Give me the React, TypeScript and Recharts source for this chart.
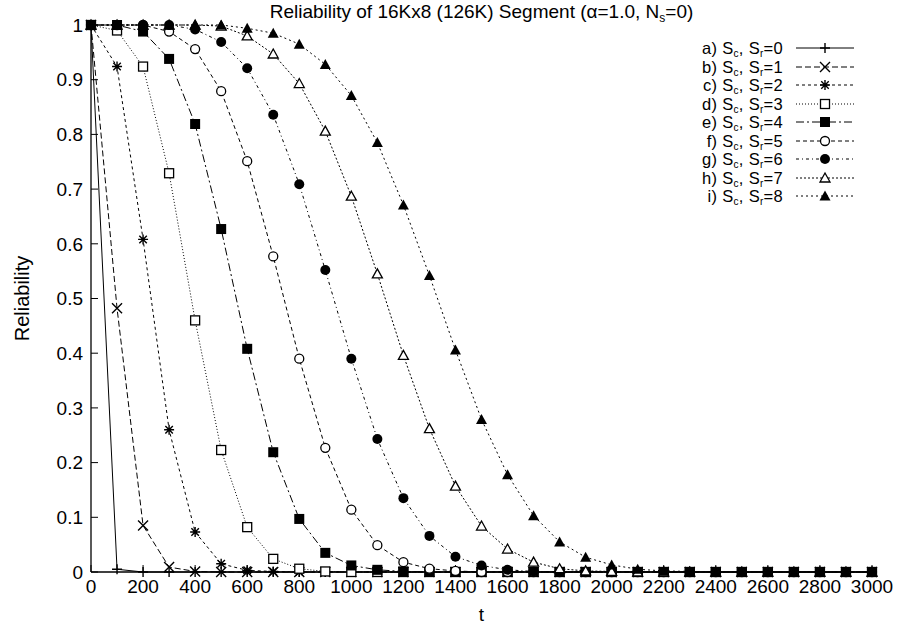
import React from 'react';
import { LineChart, Line, XAxis, YAxis, Legend } from 'recharts';

const T = [0, 100, 200, 300, 400, 500, 600, 700, 800, 900, 1000, 1100, 1200, 1300, 1400, 1500, 1600, 1700, 1800, 1900, 2000, 2100, 2200, 2300, 2400, 2500, 2600, 2700, 2800, 2900, 3000];

const R0 = [1, 0.005, 0, 0, 0, 0, 0, 0, 0, 0, 0, 0, 0, 0, 0, 0, 0, 0, 0, 0, 0, 0, 0, 0, 0, 0, 0, 0, 0, 0, 0];
const R1 = [1, 0.482, 0.085, 0.009, 0.001, 0, 0, 0, 0, 0, 0, 0, 0, 0, 0, 0, 0, 0, 0, 0, 0, 0, 0, 0, 0, 0, 0, 0, 0, 0, 0];
const R2 = [1, 0.924, 0.608, 0.26, 0.073, 0.015, 0.003, 0.001, 0, 0, 0, 0, 0, 0, 0, 0, 0, 0, 0, 0, 0, 0, 0, 0, 0, 0, 0, 0, 0, 0, 0];
const R3 = [1, 0.99, 0.924, 0.729, 0.46, 0.223, 0.082, 0.024, 0.006, 0.001, 0, 0, 0, 0, 0, 0, 0, 0, 0, 0, 0, 0, 0, 0, 0, 0, 0, 0, 0, 0, 0];
const R4 = [1, 1, 0.988, 0.938, 0.819, 0.627, 0.408, 0.219, 0.097, 0.035, 0.012, 0.004, 0.001, 0, 0, 0, 0, 0, 0, 0, 0, 0, 0, 0, 0, 0, 0, 0, 0, 0, 0];
const R5 = [1, 1, 1, 0.988, 0.956, 0.879, 0.751, 0.577, 0.39, 0.227, 0.114, 0.049, 0.018, 0.006, 0.002, 0, 0, 0, 0, 0, 0, 0, 0, 0, 0, 0, 0, 0, 0, 0, 0];
const R6 = [1, 1, 1, 1, 0.992, 0.969, 0.921, 0.836, 0.709, 0.552, 0.39, 0.243, 0.135, 0.066, 0.028, 0.012, 0.004, 0.001, 0, 0, 0, 0, 0, 0, 0, 0, 0, 0, 0, 0, 0];
const R7 = [1, 1, 1, 1, 1, 0.998, 0.98, 0.947, 0.893, 0.806, 0.687, 0.545, 0.396, 0.262, 0.157, 0.084, 0.042, 0.018, 0.006, 0.002, 0.001, 0, 0, 0, 0, 0, 0, 0, 0, 0, 0];
const R8 = [1, 1, 1, 1, 1, 1, 0.994, 0.985, 0.965, 0.928, 0.871, 0.785, 0.671, 0.542, 0.406, 0.279, 0.178, 0.103, 0.055, 0.027, 0.013, 0.005, 0.002, 0.001, 0, 0, 0, 0, 0, 0, 0];

const X_TICKS = [0, 200, 400, 600, 800, 1000, 1200, 1400, 1600, 1800, 2000, 2200, 2400, 2600, 2800, 3000];
const Y_TICKS = [0, 0.1, 0.2, 0.3, 0.4, 0.5, 0.6, 0.7, 0.8, 0.9, 1];

const TITLE_MAIN = 'Reliability of 16Kx8 (126K) Segment (\u03b1=1.0, N';
const TITLE_SUB = 's';
const TITLE_END = '=0)';
const X_LABEL = 't';
const Y_LABEL = 'Reliability';

const SERIES = [
  { key: 'a', letter: 'a', sr: '0', values: R0, dash: undefined, shape: 'plus' },
  { key: 'b', letter: 'b', sr: '1', values: R1, dash: '6 3', shape: 'cross' },
  { key: 'c', letter: 'c', sr: '2', values: R2, dash: '3 3', shape: 'star' },
  { key: 'd', letter: 'd', sr: '3', values: R3, dash: '1 2', shape: 'square' },
  { key: 'e', letter: 'e', sr: '4', values: R4, dash: '8 3 2 3', shape: 'fsquare' },
  { key: 'f', letter: 'f', sr: '5', values: R5, dash: '4 3', shape: 'circle' },
  { key: 'g', letter: 'g', sr: '6', values: R6, dash: '3 3 1 3', shape: 'fcircle' },
  { key: 'h', letter: 'h', sr: '7', values: R7, dash: '2 2', shape: 'triangle' },
  { key: 'i', letter: 'i', sr: '8', values: R8, dash: '2 3', shape: 'ftriangle' },
];

const data = T.map((t, i) => {
  const row: any = { t };
  SERIES.forEach((s) => { row[s.key] = s.values[i]; });
  return row;
});

const FONT = '"Liberation Sans", Arial, Helvetica, sans-serif';
const FS = 19;
const LEG_FS = 16.5;
const ROW_H = 18.5;

function Marker({ shape, cx, cy }: { shape: string; cx: number; cy: number }) {
  if (cx == null || cy == null || isNaN(cx) || isNaN(cy)) return <g />;
  const s = 5;
  const st = { stroke: '#000', strokeWidth: 1.4, fill: 'none' };
  switch (shape) {
    case 'plus':
      return <path d={`M${cx - s},${cy}H${cx + s}M${cx},${cy - s}V${cy + s}`} {...st} />;
    case 'cross':
      return <path d={`M${cx - s},${cy - s}L${cx + s},${cy + s}M${cx - s},${cy + s}L${cx + s},${cy - s}`} {...st} />;
    case 'star':
      return <path d={`M${cx - s},${cy}H${cx + s}M${cx},${cy - s}V${cy + s}M${cx - s * 0.75},${cy - s * 0.75}L${cx + s * 0.75},${cy + s * 0.75}M${cx - s * 0.75},${cy + s * 0.75}L${cx + s * 0.75},${cy - s * 0.75}`} {...st} />;
    case 'square':
      return <rect x={cx - 4.5} y={cy - 4.5} width={9} height={9} fill="#fff" stroke="#000" strokeWidth={1.3} />;
    case 'fsquare':
      return <rect x={cx - 5} y={cy - 5} width={10} height={10} fill="#000" />;
    case 'circle':
      return <circle cx={cx} cy={cy} r={4.5} fill="#fff" stroke="#000" strokeWidth={1.3} />;
    case 'fcircle':
      return <circle cx={cx} cy={cy} r={5} fill="#000" />;
    case 'triangle':
      return <path d={`M${cx},${cy - 5}L${cx + 5},${cy + 4}L${cx - 5},${cy + 4}Z`} fill="#fff" stroke="#000" strokeWidth={1.3} />;
    case 'ftriangle':
      return <path d={`M${cx},${cy - 5.5}L${cx + 5.5},${cy + 4.5}L${cx - 5.5},${cy + 4.5}Z`} fill="#000" />;
    default:
      return <g />;
  }
}

const subStyle = { fontSize: 10, position: 'relative' as const, top: 3, lineHeight: '10px' };

const renderLegend = () => (
  <div style={{ fontFamily: FONT, fontSize: LEG_FS, color: '#000' }}>
    {SERIES.map((s) => (
      <div key={s.key} style={{ display: 'flex', alignItems: 'center', justifyContent: 'flex-end', height: ROW_H }}>
        <span style={{ whiteSpace: 'nowrap', lineHeight: '16px', letterSpacing: 0.3 }}>
          {s.letter}) S<span style={subStyle}>c</span>, S<span style={subStyle}>r</span>={s.sr}
        </span>
        <svg width={60} height={18} style={{ marginLeft: 12, display: 'block' }}>
          <line x1={1} x2={59} y1={9} y2={9} stroke="#000" strokeWidth={1} strokeDasharray={s.dash} />
          <Marker shape={s.shape} cx={30} cy={9} />
        </svg>
      </div>
    ))}
  </div>
);

export default function App() {
  return (
    <div style={{ position: 'absolute', left: 0, top: 0, width: 899, height: 631, background: '#fff' }}>
      <div
        style={{
          position: 'absolute',
          left: 91,
          width: 781,
          top: 0,
          textAlign: 'center',
          fontFamily: FONT,
          fontSize: FS,
          lineHeight: '24px',
          color: '#000',
          whiteSpace: 'nowrap',
          zIndex: 2,
        }}
      >
        {TITLE_MAIN}
        <span style={{ fontSize: 12, position: 'relative', top: 4 }}>{TITLE_SUB}</span>
        {TITLE_END}
      </div>
      <LineChart
        width={899}
        height={631}
        data={data}
        margin={{ top: 25, right: 27, bottom: 0, left: 0 }}
        style={{ fontFamily: FONT }}
      >
        <XAxis
          dataKey="t"
          type="number"
          domain={[0, 3000]}
          ticks={X_TICKS}
          interval={0}
          height={59}
          tickSize={-7}
          tickMargin={15}
          tick={{ fill: '#000', fontSize: FS }}
          axisLine={{ stroke: '#000', strokeWidth: 1.3 }}
          tickLine={{ stroke: '#000' }}
          label={{
            content: (p: any) => {
              const vb = p.viewBox || {};
              return (
                <text x={vb.x + vb.width / 2} y={vb.y + 49} textAnchor="middle" fontSize={FS} fill="#000" fontFamily={FONT}>
                  {X_LABEL}
                </text>
              );
            },
          }}
        />
        <XAxis
          xAxisId="top"
          orientation="top"
          dataKey="t"
          type="number"
          domain={[0, 3000]}
          ticks={X_TICKS}
          interval={0}
          height={0}
          tickSize={-7}
          tick={false}
          axisLine={{ stroke: '#000', strokeWidth: 1.3 }}
          tickLine={{ stroke: '#000' }}
        />
        <YAxis
          type="number"
          domain={[0, 1]}
          ticks={Y_TICKS}
          interval={0}
          width={91}
          tickSize={-7}
          tickMargin={15}
          tick={{ fill: '#000', fontSize: FS }}
          tickFormatter={(v: number) => String(v)}
          axisLine={{ stroke: '#000', strokeWidth: 1.3 }}
          tickLine={{ stroke: '#000' }}
          label={{
            content: (p: any) => {
              const vb = p.viewBox || {};
              const x = vb.x + 29;
              const y = vb.y + vb.height / 2;
              return (
                <text x={x} y={y} transform={`rotate(-90, ${x}, ${y})`} textAnchor="middle" fontSize={FS + 1} fill="#000" fontFamily={FONT}>
                  {Y_LABEL}
                </text>
              );
            },
          }}
        />
        <YAxis
          yAxisId="right"
          orientation="right"
          type="number"
          domain={[0, 1]}
          ticks={Y_TICKS}
          interval={0}
          width={0}
          tickSize={-7}
          tick={false}
          axisLine={{ stroke: '#000', strokeWidth: 1.3 }}
          tickLine={{ stroke: '#000' }}
        />
        <Legend
          layout="vertical"
          align="center"
          verticalAlign="middle"
          content={renderLegend}
          wrapperStyle={{ position: 'absolute', left: 610, top: 39, width: 245 }}
        />
        {SERIES.map((s) => (
          <Line
            key={s.key}
            dataKey={s.key}
            type="linear"
            stroke="#000"
            strokeWidth={1}
            strokeDasharray={s.dash}
            isAnimationActive={false}
            dot={(p: any) => <Marker key={`${s.key}-${p.index}`} shape={s.shape} cx={p.cx} cy={p.cy} />}
            activeDot={false}
          />
        ))}
      </LineChart>
    </div>
  );
}
